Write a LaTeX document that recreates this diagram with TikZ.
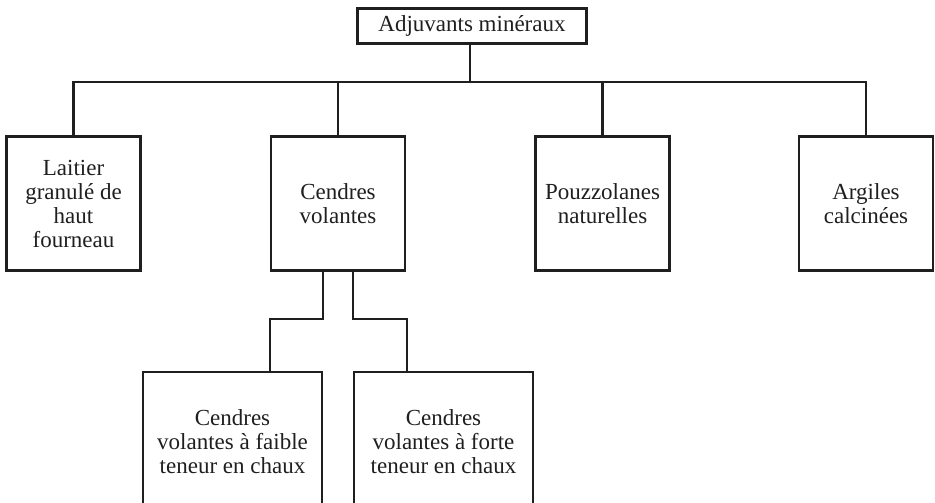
\documentclass[tikz,border=0pt]{standalone}
\usepackage{fontspec}
\setmainfont{Liberation Serif}
\begin{document}
\begin{tikzpicture}[x=1pt,y=-1pt,
  box/.style={draw, line width=2.2pt, inner sep=0pt, align=center,
    font=\fontsize{23}{24}\selectfont, color=black!88},
  catbox/.style={box, minimum width=134pt, minimum height=134pt},
  subbox/.style={box, minimum width=179pt, minimum height=140pt},
  link/.style={line width=2.2pt, color=black!88}]
\useasboundingbox (0,0) rectangle (935,503);
\clip (0,0) rectangle (935,503);
\node[box, minimum width=229pt, minimum height=35pt] (top) at (472,26) {Adjuvants minéraux};
\node[catbox] (laitier) at (73.5,203.5) {Laitier\\granulé de\\haut\\fourneau};
\node[catbox] (cendres) at (338,203.5) {Cendres\\volantes};
\node[catbox] (pouzz) at (602.5,203.5) {Pouzzolanes\\naturelles};
\node[catbox] (argiles) at (866,203.5) {Argiles\\calcinées};
\node[subbox] (faible) at (232.5,442) {Cendres\\volantes à faible\\teneur en chaux};
\node[subbox] (forte) at (443.5,442) {Cendres\\volantes à forte\\teneur en chaux};
\coordinate (bus) at (470,82);
\draw[link] (top.south -| bus) -- (bus);
\draw[link] (laitier.north) |- (bus) -| (argiles.north);
\draw[link] (cendres.north) -- (cendres.north |- bus);
\draw[link] (pouzz.north) -- (pouzz.north |- bus);
\draw[link] ([xshift=-15pt]cendres.south) -- ++(0,47) -| ([xshift=37.5pt]faible.north);
\draw[link] ([xshift=15pt]cendres.south) -- ++(0,47) -| ([xshift=-36.5pt]forte.north);
\end{tikzpicture}
\end{document}
